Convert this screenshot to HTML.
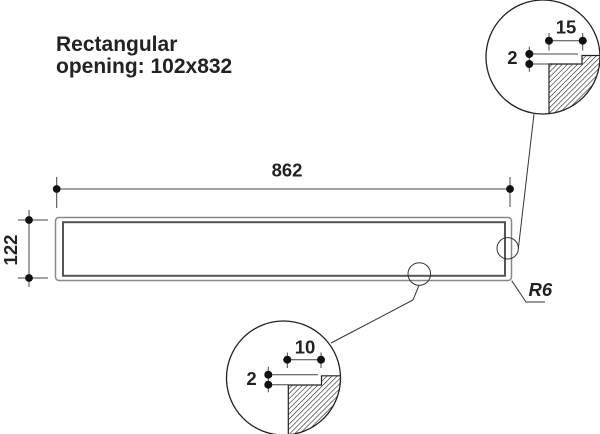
<!DOCTYPE html>
<html><head><meta charset="utf-8"><style>
html,body{margin:0;padding:0;background:#fff;}
svg{display:block;}
text{font-family:"Liberation Sans",Arial,sans-serif;font-weight:bold;fill:#222;}
</style></head><body>
<svg width="600" height="434" viewBox="0 0 600 434" xmlns="http://www.w3.org/2000/svg">
<defs>
<pattern id="hatch" patternUnits="userSpaceOnUse" width="3.6" height="3.6" patternTransform="rotate(45)">
<line x1="0" y1="0" x2="0" y2="3.6" stroke="#222" stroke-width="1.2"/>
</pattern>
<clipPath id="c1"><circle cx="543" cy="57" r="57"/></clipPath>
<clipPath id="c2"><circle cx="283.5" cy="378" r="57"/></clipPath>
</defs>

<!-- title -->
<text x="56" y="51" font-size="21">Rectangular</text>
<text x="56" y="73" font-size="21">opening: 102x832</text>

<!-- 862 dim -->
<g stroke="#444" stroke-width="1" fill="none">
<line x1="53" y1="189" x2="514" y2="189"/>
<line x1="56.7" y1="177" x2="56.7" y2="208"/>
<line x1="510" y1="177" x2="510" y2="207"/>
</g>
<circle cx="56.7" cy="189" r="3.9" fill="#111"/>
<circle cx="510" cy="189" r="3.9" fill="#111"/>
<text x="287" y="176.5" font-size="18.5" text-anchor="middle">862</text>

<!-- 122 dim -->
<g stroke="#444" stroke-width="1" fill="none">
<line x1="29" y1="210" x2="29" y2="287"/>
<line x1="18" y1="220" x2="48" y2="220"/>
<line x1="18" y1="278" x2="48" y2="278"/>
</g>
<circle cx="29" cy="220" r="3.9" fill="#111"/>
<circle cx="29" cy="278" r="3.9" fill="#111"/>
<text x="0" y="0" font-size="18.5" text-anchor="middle" transform="translate(16.8,250) rotate(-90)">122</text>

<!-- rectangles -->
<rect x="55.5" y="217.5" width="456" height="63" rx="3.5" fill="none" stroke="#888" stroke-width="1.5"/>
<rect x="63" y="222.2" width="442" height="53.6" fill="none" stroke="#555" stroke-width="2"/>

<!-- small circles -->
<circle cx="507.7" cy="248.3" r="10.7" fill="none" stroke="#333" stroke-width="1"/>
<circle cx="419.3" cy="274" r="11.3" fill="none" stroke="#333" stroke-width="1"/>

<!-- leaders -->
<g stroke="#333" stroke-width="1" fill="none">
<line x1="518.4" y1="248" x2="534" y2="114"/>
<polyline points="419,285.3 413,300 331,343"/>
<polyline points="511.7,280.7 526,302 545,302"/>
</g>
<text x="528.5" y="296" font-size="18.5" font-style="italic">R6</text>

<!-- top-right detail circle -->
<g clip-path="url(#c1)">
<polygon points="549,64 582,64 582,55.5 610,55.5 610,130 549,130" fill="url(#hatch)"/>
<polyline points="549,130 549,64 582,64 582,55.5 610,55.5" fill="none" stroke="#222" stroke-width="1.2"/>
</g>
<circle cx="543" cy="57" r="57" fill="none" stroke="#222" stroke-width="1.3"/>
<g stroke="#444" stroke-width="1" fill="none">
<line x1="529.3" y1="54" x2="578" y2="54"/>
<line x1="529.3" y1="64" x2="549" y2="64"/>
<line x1="529.3" y1="46.7" x2="529.3" y2="71.7"/>
<line x1="545" y1="40.7" x2="587" y2="40.7"/>
<line x1="549" y1="33" x2="549" y2="50.5"/>
<line x1="582.7" y1="33" x2="582.7" y2="50.5"/>
</g>
<circle cx="529.3" cy="54" r="4" fill="#111"/>
<circle cx="529.3" cy="64" r="4" fill="#111"/>
<circle cx="549" cy="40.7" r="4" fill="#111"/>
<circle cx="582.7" cy="40.7" r="4" fill="#111"/>
<text x="566" y="33.5" font-size="18.5" text-anchor="middle">15</text>
<text x="517.5" y="64" font-size="18.5" text-anchor="end">2</text>

<!-- bottom detail circle -->
<g clip-path="url(#c2)">
<polygon points="288.3,385 321.5,385 321.5,375.8 350,375.8 350,440 288.3,440" fill="url(#hatch)"/>
<polyline points="288.3,440 288.3,385 321.5,385 321.5,375.8 350,375.8" fill="none" stroke="#222" stroke-width="1.2"/>
</g>
<circle cx="283.5" cy="378" r="57" fill="none" stroke="#222" stroke-width="1.3"/>
<g stroke="#444" stroke-width="1" fill="none">
<line x1="268.3" y1="374.7" x2="318" y2="374.7"/>
<line x1="268.3" y1="384.7" x2="288.3" y2="384.7"/>
<line x1="268.3" y1="366.7" x2="268.3" y2="392.3"/>
<line x1="283" y1="359.7" x2="325" y2="359.7"/>
<line x1="287.3" y1="352.5" x2="287.3" y2="368"/>
<line x1="321" y1="352.5" x2="321" y2="368"/>
</g>
<circle cx="268.3" cy="374.7" r="4" fill="#111"/>
<circle cx="268.3" cy="384.7" r="4" fill="#111"/>
<circle cx="287.3" cy="359.7" r="4" fill="#111"/>
<circle cx="321" cy="359.7" r="4" fill="#111"/>
<text x="305" y="353.3" font-size="18.5" text-anchor="middle">10</text>
<text x="256.7" y="385" font-size="18.5" text-anchor="end">2</text>
</svg>
</body></html>
